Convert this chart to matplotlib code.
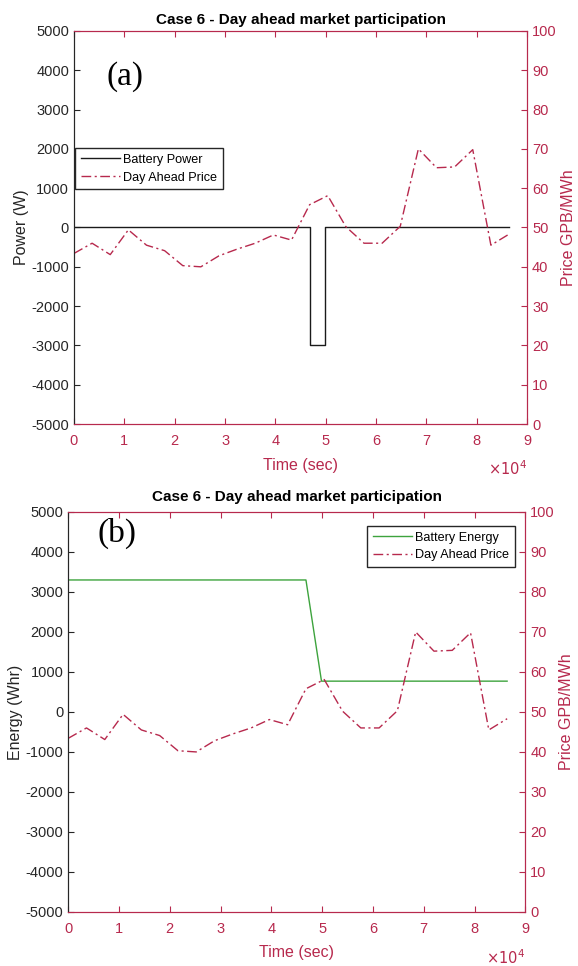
import matplotlib
matplotlib.use('Agg')
import matplotlib.pyplot as plt
import numpy as np

plt.rcParams['font.family'] = ['Liberation Sans', 'DejaVu Sans']
plt.rcParams['axes.unicode_minus'] = False

# hourly day ahead price, GBP/MWh
price_t = np.arange(25) * 3600
price = [43.4, 46.0, 43.1, 49.4, 45.5, 44.1, 40.3, 40.0, 42.8, 44.5, 46.0, 48.1,
         46.8, 55.8, 58.1, 50.2, 46.0, 46.0, 50.3, 70.0, 65.2, 65.4, 69.8, 45.5, 48.3]

# battery power (W), one discharge block
power_t = [0, 46800, 46800, 49860, 49860, 86400]
power = [0, 0, -3000, -3000, 0, 0]

# battery stored energy (Whr)
energy_t = [0, 46800, 49860, 86400]
energy = [3300, 3300, 770, 770]

red = '#B7294D'
green = '#3DA33D'
dark = '#262626'
dashdot = (0, (7, 2.5, 1.5, 2.5))

xticks = np.arange(0, 90001, 10000)
xticklabels = [str(i) for i in range(10)]

fig = plt.figure(figsize=(5.78, 9.66), dpi=100)


def setup(ax, ax2, ylabel, letter, letter_xy, title_pad):
    ax.set_xlim(0, 90000)
    ax.set_ylim(-5000, 5000)
    ax.set_yticks(np.arange(-5000, 5001, 1000))
    ax.set_xticks(xticks)
    ax.set_xticklabels(xticklabels)
    ax.tick_params(axis='both', direction='in', length=4, width=0.8, labelsize=10.5)
    ax.tick_params(axis='x', colors=red, top=True, pad=7)
    ax.tick_params(axis='y', colors=dark, labelcolor=dark)
    ax.spines['left'].set_color(dark)
    for side in ('top', 'bottom', 'right'):
        ax.spines[side].set_color(red)
    ax.set_xlabel('Time (sec)', color=red, fontsize=11.5, labelpad=7)
    ax.set_ylabel(ylabel, fontsize=11.5, color=dark, labelpad=2)
    ax.set_title('Case 6 - Day ahead market participation', fontsize=11,
                 fontweight='bold', pad=title_pad)
    ax.text(1.0, -0.09, r'$\times10^4$', transform=ax.transAxes, color=red,
            fontsize=10.5, ha='right', va='top')
    ax.text(letter_xy[0], letter_xy[1], letter, transform=ax.transAxes,
            fontsize=24, family=['Liberation Serif'], va='center')

    ax2.set_ylim(0, 100)
    ax2.set_yticks(np.arange(0, 101, 10))
    ax2.tick_params(axis='y', direction='in', length=4, width=0.8, colors=red,
                    labelsize=10.5)
    ax2.spines['right'].set_color(red)
    ax2.spines['top'].set_color(red)
    ax2.spines['bottom'].set_color(red)
    ax2.spines['left'].set_color(dark)
    ax2.set_ylabel('Price GPB/MWh', color=red, fontsize=11.5, labelpad=3)


legend_kw = dict(fontsize=9.1, frameon=True, fancybox=False, edgecolor=dark,
                 borderpad=0.45, handlelength=3.1, handletextpad=0.25,
                 borderaxespad=0.1, labelspacing=0.45, framealpha=1)

# (a) power
ax1 = fig.add_axes([0.128, 0.561, 0.784, 0.407])
ax1b = ax1.twinx()
ax1.plot(power_t, power, color='#1a1a1a', lw=1.0, label='Battery Power')
ax1b.plot(price_t, price, color=red, lw=1.0, ls=dashdot, label='Day Ahead Price')
setup(ax1, ax1b, 'Power (W)', '(a)', (0.072, 0.885), 5)
h1, l1 = ax1.get_legend_handles_labels()
h2, l2 = ax1b.get_legend_handles_labels()
ax1b.legend(h1 + h2, l1 + l2, loc='upper left', bbox_to_anchor=(0.0, 0.705),
            **legend_kw)

# (b) energy
ax2 = fig.add_axes([0.118, 0.056, 0.791, 0.414])
ax2b = ax2.twinx()
ax2.plot(energy_t, energy, color=green, lw=1.0, label='Battery Energy')
ax2b.plot(price_t, price, color=red, lw=1.0, ls=dashdot, label='Day Ahead Price')
setup(ax2, ax2b, 'Energy (Whr)', '(b)', (0.063, 0.947), 8)
h1, l1 = ax2.get_legend_handles_labels()
h2, l2 = ax2b.get_legend_handles_labels()
ax2b.legend(h1 + h2, l1 + l2, loc='upper right', bbox_to_anchor=(0.98, 0.968),
            **legend_kw)

fig.savefig('out.png', dpi=100)
